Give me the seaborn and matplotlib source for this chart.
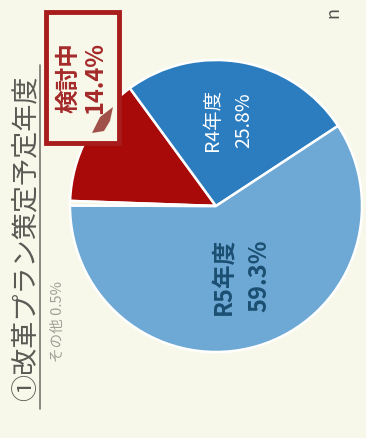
import matplotlib
matplotlib.use("Agg")
import matplotlib.pyplot as plt
from matplotlib.patches import Rectangle, Polygon
import seaborn as sns

# Data
categories = ["検討中", "R4年度", "R5年度", "その他"]
shares = [14.4, 25.8, 59.3, 0.5]
colors = ["#A80A0A", "#2C7DC0", "#6EA8D4", "#F4F4E4"]
title = "①改革プラン策定予定年度"

sns.set_theme(style="white")
plt.rcParams['font.family'] = ['Noto Sans CJK JP', 'DejaVu Sans']

W, H = 366, 439
bg = "#F8F8EA"
fig = plt.figure(figsize=(W / 100, H / 100), dpi=100, facecolor=bg)
ax = fig.add_axes([0, 0, 1, 1])
ax.set_facecolor(bg)
ax.axis("off")

def Y(y):
    return H - y

ax.pie(shares, colors=colors, startangle=178, counterclock=False,
       center=(216, Y(207)), radius=146,
       wedgeprops=dict(edgecolor="white", linewidth=1.8))
ax.set_xlim(0, W)
ax.set_ylim(0, H)
ax.set_aspect("equal")

# Title (rotated)
ax.text(26, Y(238), title, rotation=90, ha="center", va="center",
        fontsize=19.5, color="#5a5a55")
ax.plot([40, 40], [Y(410), Y(66)], color="#777770", lw=1.2)

# その他 label
ax.text(58, Y(322), f"{categories[3]} {shares[3]}%", rotation=90,
        ha="center", va="center", fontsize=10.5, color="#a0a098")

# 検討中 box label
ax.add_patch(Rectangle((46, Y(144)), 73, 131, fc=bg, ec="#A81C1C", lw=3.5,
                       zorder=3))
ax.add_patch(Polygon([(92, Y(134)), (100, Y(118)), (113, Y(108)),
                      (110, Y(122)), (104, Y(132))],
                     closed=True, fc="#A0524A", ec="none", zorder=4))
ax.text(82, Y(78), f"{categories[0]}\n{shares[0]}%", rotation=90,
        ha="center", va="center", fontsize=17, fontweight="bold",
        color="#A52A2A", linespacing=1.15, zorder=5)

# R4 label
ax.text(228, Y(120), f"{categories[1]}\n{shares[1]}%", rotation=90,
        ha="center", va="center", fontsize=14, color="white",
        linespacing=1.6)

# R5 label
ax.text(242, Y(276), f"{categories[2]}\n{shares[2]}%", rotation=90,
        ha="center", va="center", fontsize=17, fontweight="bold",
        color="#1B4F72", linespacing=1.55)

# cut-off n at top right
ax.text(333, Y(12), "n", rotation=90, ha="center", va="center",
        fontsize=13, color="#555550")

fig.savefig("out.png", dpi=100, facecolor=bg)
